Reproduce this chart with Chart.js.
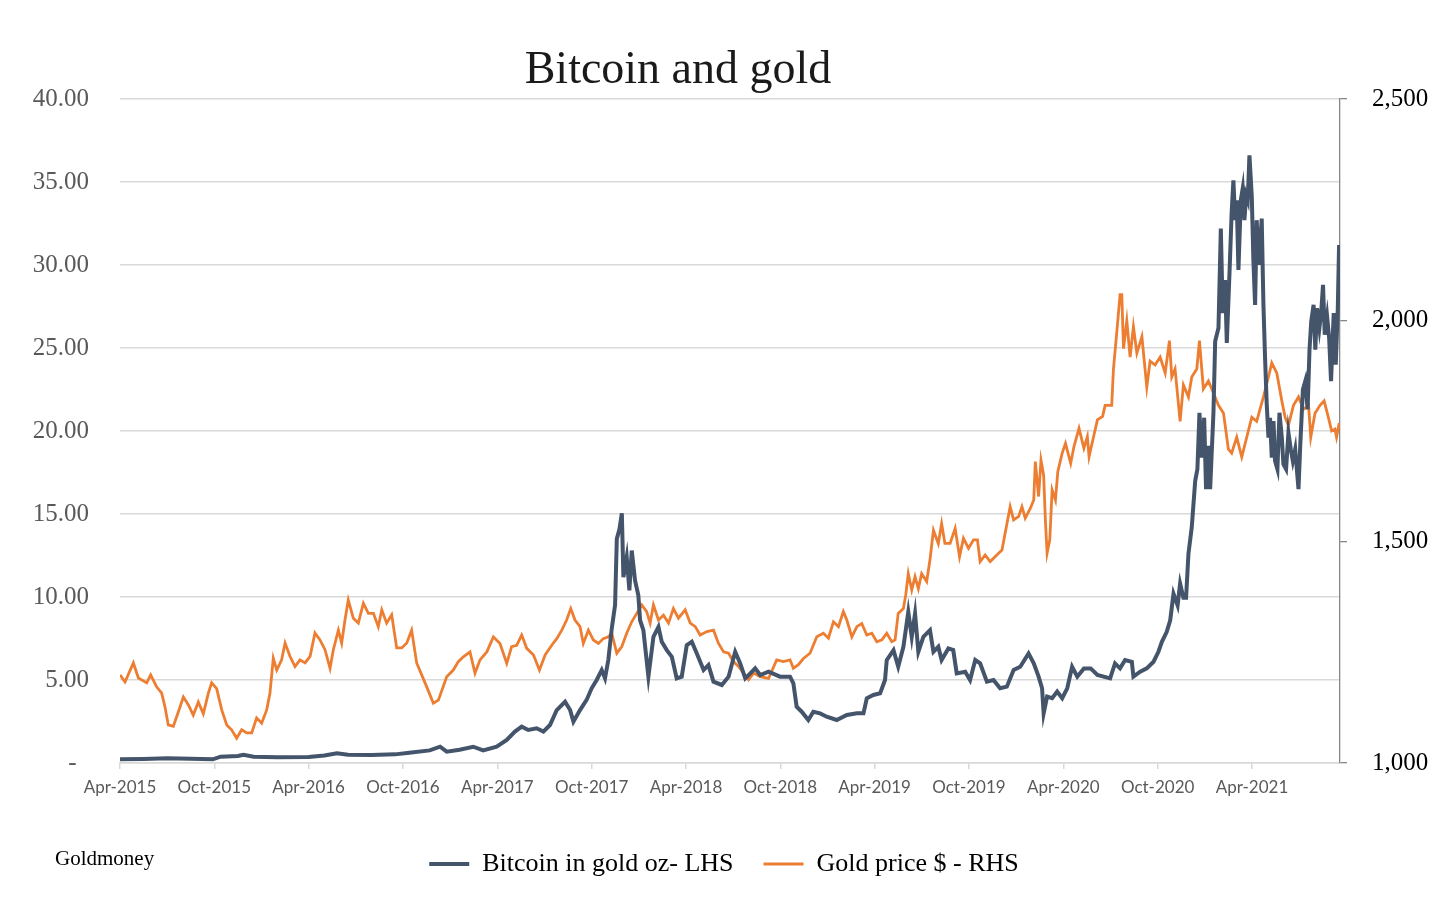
<!DOCTYPE html>
<html>
<head>
<meta charset="utf-8">
<title>Bitcoin and gold</title>
<script src="https://cdn.jsdelivr.net/npm/chart.js@4.4.1/dist/chart.umd.min.js"></script>
<style>
    html, body { margin: 0; padding: 0; background: #fff; }
    #wrap { position: relative; width: 1448px; height: 920px; }
    #source {
        position: absolute; left: 55px; top: 846px;
        font-family: 'Liberation Serif', serif; font-size: 21px; line-height: 24px; color: #000;
    }
</style>
</head>
<body>
<div id="wrap">
    <canvas id="chart" width="1448" height="920"></canvas>
    <div id="source">Goldmoney</div>
</div>
<script>
// x values are months since Apr-2015
const tickMonths = [0, 6, 12, 18, 24, 30, 36, 42, 48, 54, 60, 66, 72];
const tickLabels = ['Apr-2015', 'Oct-2015', 'Apr-2016', 'Oct-2016', 'Apr-2017', 'Oct-2017', 'Apr-2018',
    'Oct-2018', 'Apr-2019', 'Oct-2019', 'Apr-2020', 'Oct-2020', 'Apr-2021'];

// Bitcoin priced in gold ounces (LHS)
const btcMonths = [0, 1.5, 3, 4.5, 5.9, 6.4, 7.5, 7.85, 8.5, 10, 12, 13, 13.8, 14.5, 16, 17.5, 18.4, 19.7, 20.36, 20.78,
    21.6, 22.47, 23.1, 23.96, 24.6, 25.12, 25.55, 25.97, 26.5, 26.93, 27.35, 27.78, 28.31, 28.63, 28.84, 29.26, 29.68,
    30.0, 30.32, 30.64, 30.85, 31.06, 31.28, 31.49, 31.6, 31.77, 31.92, 32.02, 32.23, 32.4, 32.55, 32.76, 32.97, 33.08,
    33.29, 33.61, 33.93, 34.25, 34.46, 34.78, 35.1, 35.41, 35.73, 36.05, 36.37, 36.69, 37.12, 37.43, 37.75, 38.28, 38.71,
    39.13, 39.45, 39.77, 40.09, 40.4, 40.72, 41.25,
    41.98, 42.62, 42.83, 43.04, 43.36, 43.78, 44.1, 44.53, 44.95, 45.59, 46.23, 46.87, 47.29, 47.5, 47.92, 48.35, 48.66,
    48.77, 49.2, 49.5, 49.83, 50.14, 50.36, 50.57, 50.78, 51.1, 51.52, 51.74, 52.05, 52.26, 52.69, 53.0, 53.22, 53.76,
    54.07, 54.4, 54.71, 55.14, 55.56, 55.98, 56.41, 56.84, 57.26, 57.79, 58.12, 58.43, 58.65, 58.75, 58.97, 59.29, 59.61,
    59.93, 60.25, 60.56, 60.89, 61.31, 61.74, 62.17,
    62.98, 63.29, 63.61, 63.93, 64.36, 64.46, 64.89, 65.31, 65.74, 66.05, 66.27, 66.58, 66.8, 67.01, 67.27, 67.43, 67.64,
    67.81, 67.96, 68.17, 68.39, 68.53, 68.66, 68.81, 68.96, 69.08, 69.23, 69.34, 69.55, 69.66, 69.87, 70.02, 70.14, 70.29,
    70.4, 70.57, 70.71, 70.82, 70.93, 71.03, 71.14, 71.29, 71.41, 71.52, 71.63, 71.73, 71.84, 71.99, 72.09, 72.2, 72.3,
    72.45, 72.62, 72.73, 72.83, 72.94, 73.05, 73.15, 73.26, 73.37, 73.47, 73.62, 73.75, 73.9, 74.0, 74.17, 74.32, 74.47,
    74.6, 74.75, 74.96, 75.07, 75.24, 75.39, 75.54, 75.66, 75.77, 75.92, 76.03, 76.14, 76.29, 76.4, 76.52, 76.63, 76.78,
    76.91, 77.03, 77.2, 77.33, 77.46, 77.54];
const btcOz = [0.22, 0.24, 0.28, 0.26, 0.22, 0.38, 0.42, 0.5, 0.38, 0.34, 0.36, 0.45, 0.58, 0.5, 0.48, 0.52, 0.62, 0.76, 0.98, 0.68,
    0.8, 0.98, 0.76, 0.98, 1.39, 1.89, 2.19, 1.99, 2.09, 1.89, 2.29, 3.19, 3.69, 3.19, 2.49, 3.19, 3.8,
    4.5, 5.0, 5.6, 5.1, 6.2, 8.11, 9.52, 13.5, 14.1, 15.04, 11.2, 12.4, 10.4, 12.8, 11.0, 10.1, 8.6,
    8.0, 5.2, 7.6, 8.2, 7.3, 6.8, 6.4, 5.1, 5.2, 7.1, 7.3, 6.6, 5.6, 5.9, 4.9, 4.7, 5.2,
    6.7, 6.0, 5.1, 5.4, 5.7, 5.3, 5.5,
    5.2, 5.2, 4.8, 3.39, 3.09, 2.59, 3.09, 2.99, 2.79, 2.59, 2.89, 2.99, 2.99, 3.9, 4.1, 4.2, 5.0,
    6.2, 6.8, 5.8, 7.0, 9.1, 7.6, 9.0, 6.7, 7.6, 8.0, 6.7, 7.0, 6.2, 6.9, 6.8, 5.4, 5.5,
    5.0, 6.2, 6.0, 4.9, 5.0, 4.5, 4.6, 5.6, 5.8, 6.6, 6.0, 5.2, 4.5, 2.99, 4.0, 3.9, 4.3,
    3.9, 4.5, 5.8, 5.2, 5.7, 5.7, 5.3,
    5.1, 6.0, 5.7, 6.2, 6.1, 5.2, 5.5, 5.7, 6.1, 6.7, 7.3, 7.9, 8.6, 10.2, 9.5, 10.8, 9.95,
    9.95, 12.6, 14.2, 17.0, 17.7, 21.1, 18.4, 20.8, 16.5, 19.1, 16.5, 21.1, 25.4, 26.2, 32.2, 27.1, 29.1,
    25.3, 29.5, 33.2, 35.1, 32.7, 33.9, 29.7, 33.9, 34.6, 32.7, 34.2, 33.9, 36.6, 34.1, 30.3, 27.6, 32.7,
    30.0, 32.8, 27.6, 24.5, 21.6, 19.6, 20.8, 18.4, 20.6, 18.2, 17.7, 21.1, 19.6, 18.0, 17.7, 19.9, 18.9,
    18.2, 18.9, 16.5, 19.1, 22.5, 23.0, 21.3, 24.9, 26.6, 27.6, 24.9, 27.4, 26.2, 27.1, 28.8, 25.8, 26.9,
    25.6, 23.0, 27.1, 24.0, 27.4, 31.2];

// Gold price in US$ (RHS)
const goldMonths = [0, 0.32, 0.85, 1.17, 1.7, 1.95, 2.33, 2.65, 2.86, 3.07, 3.39, 3.71, 4.03, 4.35, 4.66, 4.98, 5.3, 5.62,
    5.83, 6.15, 6.47, 6.79, 7.1, 7.42, 7.74, 8.06, 8.38, 8.69, 9.01, 9.33, 9.54, 9.75, 9.97, 10.28, 10.5, 10.81, 11.13,
    11.45, 11.77, 12.09, 12.4, 12.72, 13.04, 13.36, 13.57, 13.89, 14.1, 14.31, 14.52, 14.84, 15.16, 15.48, 15.8, 16.12,
    16.43, 16.65, 16.96, 17.28, 17.6, 17.92, 18.24, 18.55, 18.87, 19.19, 19.51, 19.93, 20.25,
    20.78, 21.2, 21.52, 21.84, 22.26, 22.58, 22.9, 23.33, 23.75, 24.17, 24.6, 24.91, 25.23, 25.55, 25.87, 26.3, 26.68,
    27.04, 27.46, 27.78, 28.1, 28.41, 28.67, 28.94, 29.26, 29.47, 29.79, 30.11, 30.43, 30.74, 31.06, 31.28, 31.6, 31.92,
    32.23, 32.55, 32.87, 33.19, 33.5, 33.72, 33.93, 34.25, 34.57, 34.89, 35.2, 35.52, 35.95, 36.27, 36.59, 36.9, 37.33,
    37.75, 38.07, 38.39, 38.71, 39.02, 39.34, 39.66, 39.98, 40.3, 40.72, 41.25,
    41.77, 42.19, 42.62, 42.83, 43.15, 43.47, 43.89, 44.32, 44.74, 45.06, 45.38, 45.7, 46.01, 46.23, 46.55, 46.87, 47.18,
    47.5, 47.82, 48.14, 48.46, 48.77, 49.09, 49.3, 49.5, 49.83, 49.98, 50.14, 50.36, 50.57, 50.78, 50.99, 51.31, 51.52,
    51.74, 52.05, 52.26, 52.47, 52.8, 53.12, 53.4, 53.65, 53.97, 54.29, 54.54, 54.71, 55.03, 55.35, 55.77, 56.1, 56.3,
    56.62, 56.84, 57.16, 57.37, 57.58, 57.9, 58.12, 58.22, 58.43, 58.58, 58.75, 58.86, 58.97, 59.14, 59.29, 59.5, 59.65,
    59.93, 60.14, 60.47, 60.68, 61.0, 61.31, 61.53, 61.64, 61.95, 62.17, 62.5,
    62.66, 63.08, 63.19, 63.4, 63.61, 63.72, 63.83, 64.04, 64.25, 64.46, 64.68, 65.0, 65.31, 65.52, 65.84, 66.16, 66.48,
    66.75, 66.9, 67.11, 67.43, 67.64, 67.96, 68.17, 68.49, 68.66, 68.91, 69.23, 69.55, 69.87, 70.19, 70.5, 70.71, 71.03,
    71.35, 71.67, 71.99, 72.3, 72.73, 73.05, 73.26, 73.58, 73.9, 74.11, 74.32, 74.64, 74.96, 75.28, 75.6, 75.74, 76.01,
    76.33, 76.59, 76.86, 77.07, 77.28, 77.38, 77.55];
const goldUsd = [1199, 1183, 1226, 1192, 1181, 1199, 1172, 1158, 1127, 1086, 1083, 1115, 1149, 1131, 1108, 1138, 1111, 1158,
    1181, 1168, 1120, 1086, 1075, 1056, 1075, 1068, 1068, 1102, 1090, 1120, 1158, 1237, 1210, 1233, 1271, 1241, 1218,
    1233, 1226, 1241, 1294, 1278, 1256, 1214, 1256, 1300, 1271, 1323, 1368, 1327, 1316, 1361, 1338, 1338,
    1308, 1346, 1316, 1335, 1260, 1260, 1271, 1300, 1226, 1199, 1172, 1135, 1142,
    1195, 1210, 1229, 1240, 1251, 1203, 1233, 1251, 1285, 1270, 1225, 1263, 1266, 1289, 1259, 1244, 1210,
    1244, 1266, 1281, 1300, 1323, 1349, 1323, 1308, 1270, 1300, 1278, 1270, 1281, 1285, 1293, 1248, 1263,
    1293, 1319, 1338, 1357, 1342, 1316, 1357, 1323, 1334, 1316, 1349, 1327, 1346, 1316, 1308, 1289, 1297,
    1300, 1270, 1251, 1248, 1229, 1218, 1203, 1188, 1203, 1195, 1191,
    1233, 1229, 1233, 1214, 1222, 1236, 1248, 1285, 1293, 1282, 1319, 1308, 1342, 1323, 1285, 1308, 1315,
    1289, 1293, 1274, 1278, 1293, 1274, 1278, 1338, 1349, 1380, 1428, 1391, 1421, 1394, 1428, 1410, 1459,
    1526, 1496, 1541, 1496, 1496, 1530, 1466, 1508, 1485, 1504, 1504, 1455, 1470, 1455, 1470, 1481, 1519,
    1579, 1549, 1557, 1579, 1553, 1575, 1594, 1681, 1602, 1684, 1650, 1549, 1474, 1504, 1617, 1594, 1658,
    1700, 1722, 1677, 1715, 1756, 1711, 1737, 1692, 1741, 1775, 1783,
    1808, 1808, 1890, 1972, 2058, 2058, 1936, 1999, 1917, 1986, 1926, 1963, 1849, 1908, 1899, 1917, 1881,
    1954, 1872, 1890, 1772, 1854, 1827, 1872, 1890, 1954, 1845, 1863, 1836, 1808, 1790, 1709, 1700, 1736,
    1691, 1736, 1781, 1772, 1827, 1872, 1904, 1881, 1818, 1781, 1763, 1808, 1827, 1799, 1808, 1736, 1790,
    1808, 1818, 1781, 1750, 1754, 1736, 1768];

const btcData = btcMonths.map((m, i) => ({ x: m, y: btcOz[i] }));
const goldData = goldMonths.map((m, i) => ({ x: m, y: goldUsd[i] }));

const serif = 'Liberation Serif';

const ctx = document.getElementById('chart').getContext('2d');
const chart = new Chart(ctx, {
    type: 'line',
    data: {
        datasets: [
            { label: 'Bitcoin in gold oz- LHS', data: btcData, borderColor: '#44546A', backgroundColor: '#44546A',
              borderWidth: 4, pointRadius: 0, pointHoverRadius: 0, tension: 0, yAxisID: 'y' },
            { label: 'Gold price $ - RHS', data: goldData, borderColor: '#ED7D31', backgroundColor: '#ED7D31',
              borderWidth: 2.8, pointRadius: 0, pointHoverRadius: 0, tension: 0, yAxisID: 'y1' }
        ]
    },
    options: {
        responsive: false,
        animation: false,
        layout: { padding: { left: 0, right: 0, top: 0, bottom: 33 } },
        plugins: {
            title: {
                display: true,
                // trailing spaces shift the centred title left, as in the original
                text: 'Bitcoin and gold' + '\u00a0'.repeat(8),
                color: '#1a1a1a',
                font: { family: serif, size: 46, weight: 'normal' },
                padding: { top: 43, bottom: 0.8 }
            },
            legend: {
                position: 'bottom',
                labels: {
                    usePointStyle: true,
                    pointStyle: 'line',
                    pointStyleWidth: 40,
                    color: '#000',
                    padding: 30,
                    font: { family: serif, size: 26 }
                }
            },
            tooltip: { enabled: false }
        },
        scales: {
            x: {
                type: 'linear',
                min: 0,
                max: 77.6,
                afterBuildTicks: (scale) => { scale.ticks = tickMonths.map(v => ({ value: v })); },
                afterFit: (scale) => { scale.height = 58; },
                grid: { display: true, drawOnChartArea: false, drawTicks: true, tickLength: 6, color: '#d9d9d9', lineWidth: 1.5 },
                border: { display: true, color: '#d9d9d9', width: 1.5 },
                ticks: {
                    autoSkip: false,
                    maxRotation: 0,
                    padding: 8,
                    color: '#595959',
                    font: { family: 'Lato', size: 17 },
                    callback: (v) => tickLabels[tickMonths.indexOf(v)]
                }
            },
            y: {
                position: 'left',
                min: 0,
                max: 40,
                afterFit: (scale) => { scale.width = 120; },
                grid: { color: '#d9d9d9', lineWidth: 1.5, drawTicks: false },
                border: { display: false },
                ticks: {
                    stepSize: 5,
                    padding: 31,
                    color: '#595959',
                    font: { family: serif, size: 25 },
                    callback: (v) => v === 0 ? '-  ' : v.toFixed(2)
                }
            },
            y1: {
                position: 'right',
                min: 1000,
                max: 2500,
                afterFit: (scale) => { scale.width = 108; },
                grid: { drawOnChartArea: false, drawTicks: true, tickLength: 7, color: '#868686', lineWidth: 1.3 },
                border: { display: true, color: '#868686', width: 1.3 },
                ticks: {
                    stepSize: 500,
                    padding: 25,
                    color: '#000',
                    font: { family: serif, size: 25 },
                    callback: (v) => v.toLocaleString('en-US')
                }
            }
        }
    }
});
</script>
</body>
</html>
